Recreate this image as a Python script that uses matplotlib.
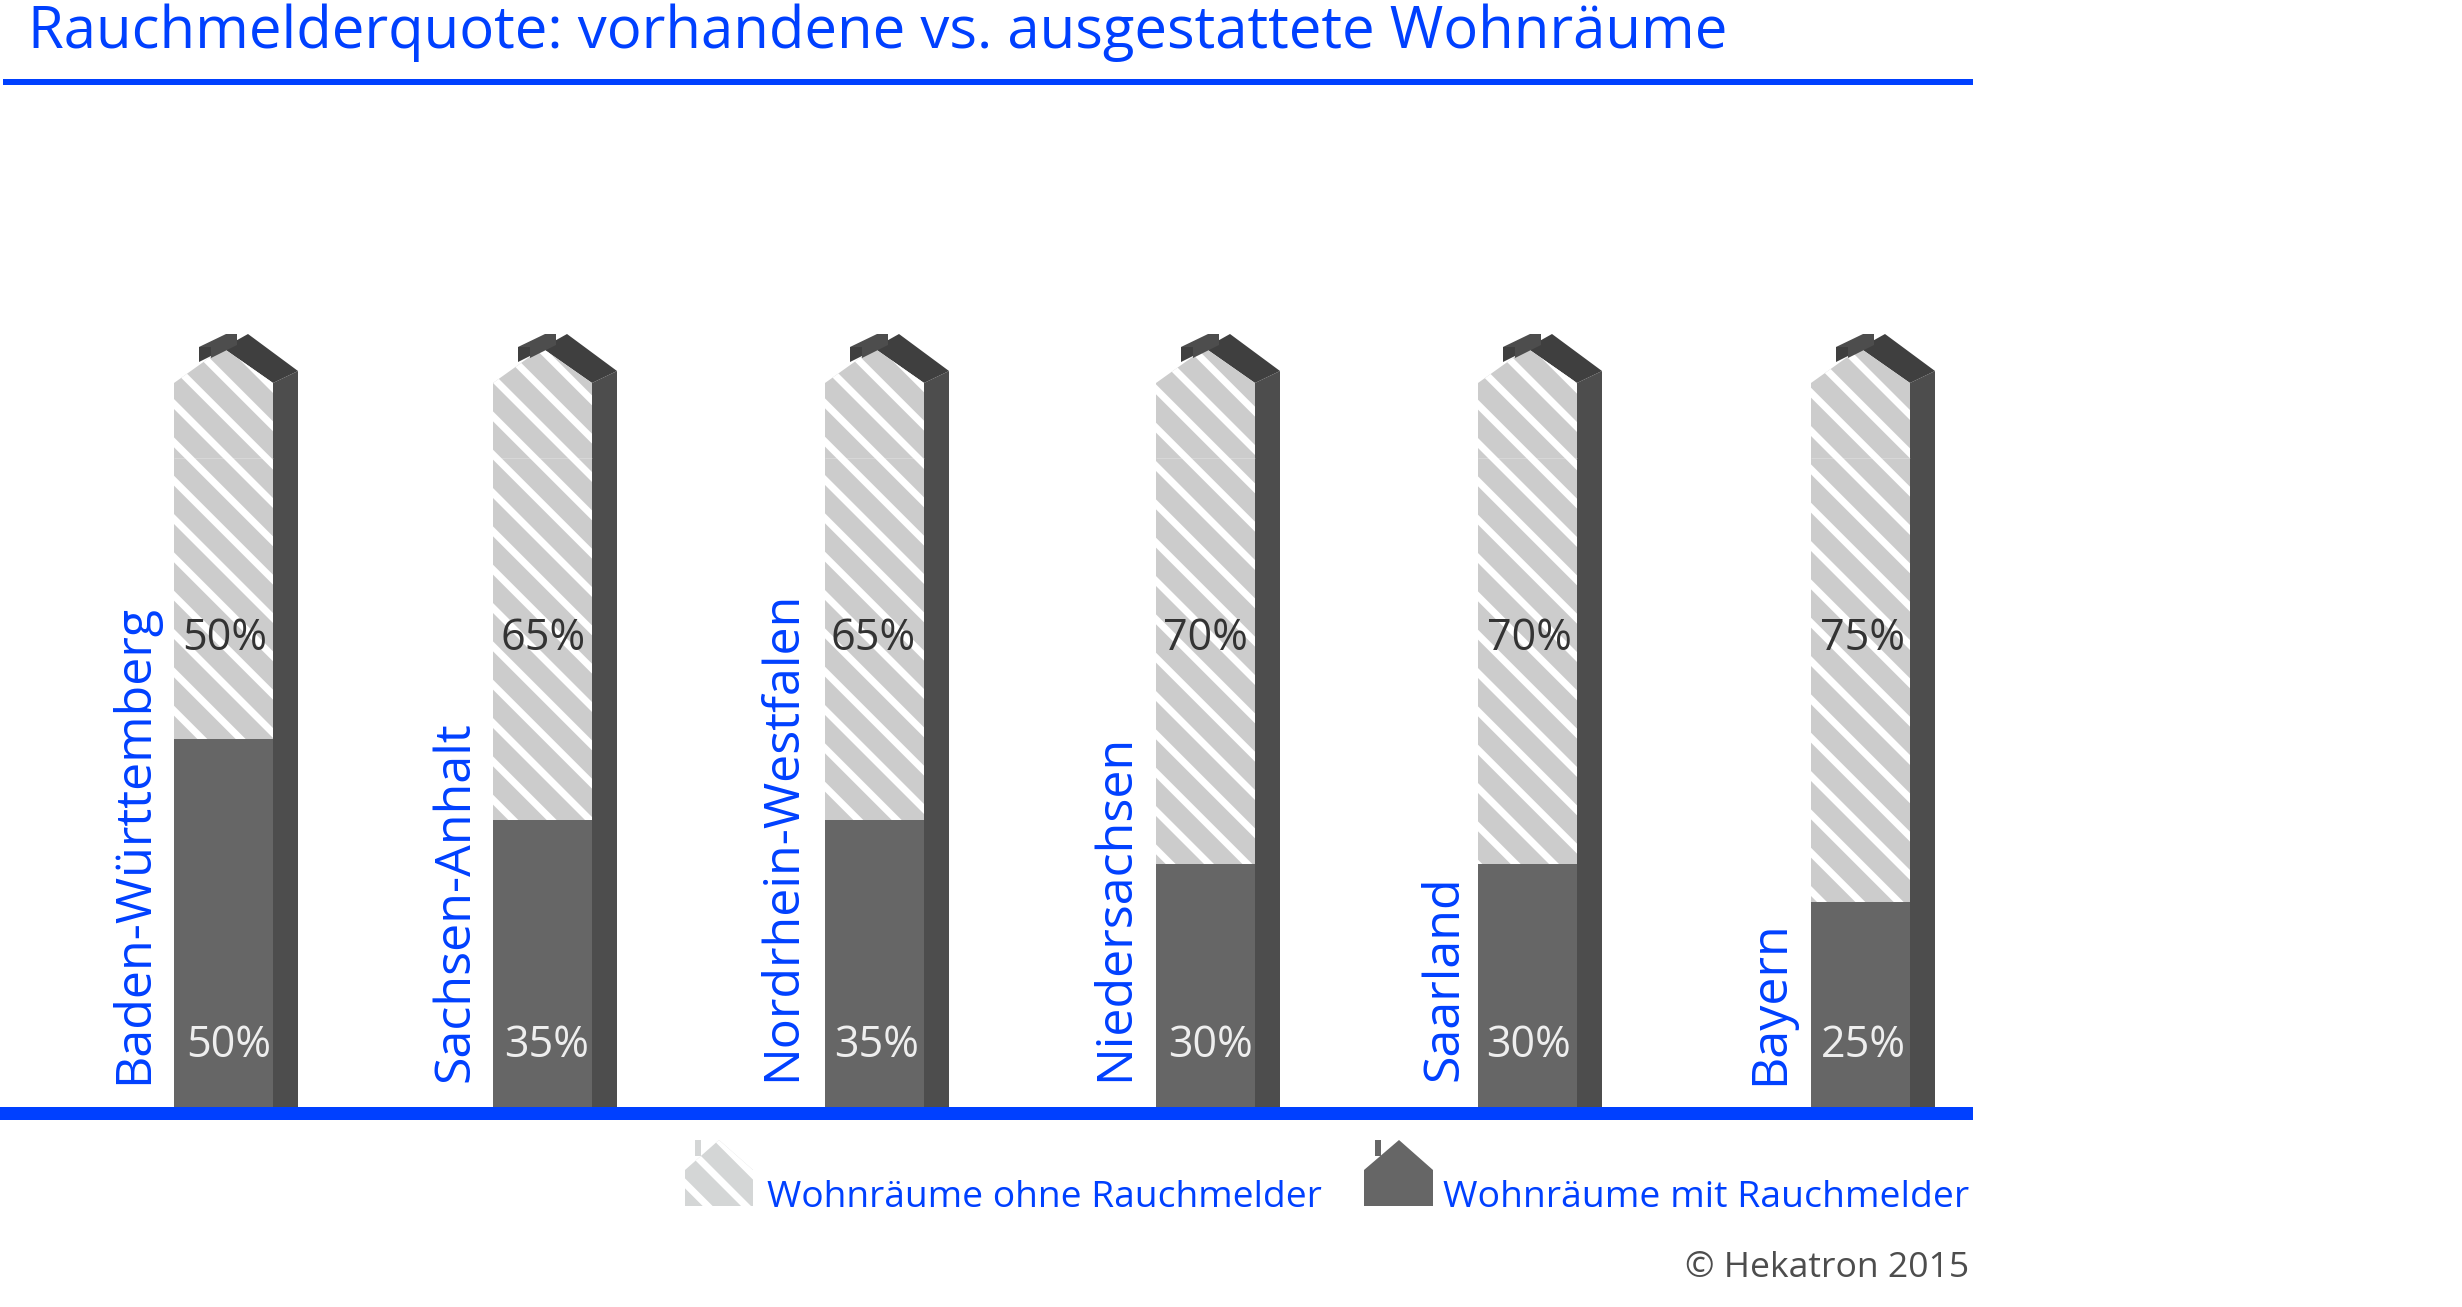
# -*- coding: utf-8 -*-
import matplotlib
matplotlib.use('Agg')
import matplotlib.pyplot as plt
from matplotlib.patches import Polygon

plt.rcParams['font.family'] = 'Open Sans'
plt.rcParams['hatch.linewidth'] = 2.2

states = ['Baden-Württemberg', 'Sachsen-Anhalt', 'Nordrhein-Westfalen',
          'Niedersachsen', 'Saarland', 'Bayern']
with_detector = [50, 35, 35, 30, 30, 25]
without_detector = [50, 65, 65, 70, 70, 75]
# the drawn heights do not follow the labels, these are read off the bars
drawn_height = [50.8, 39.6, 39.6, 33.5, 33.5, 28.3]

BLUE = '#0040ff'
GREY_FRONT = '#666666'
GREY_SIDE = '#4d4d4d'
GREY_ROOF = '#3f3f3f'
GREY_HATCH = '#cccccc'
STRIPES = '\\\\'

W, H = 2462, 1307
DPI = 230
BASE, EAVE = 1107, 383

bar_left = [174, 493, 825, 1156, 1478, 1811]
label_x = [134, 456, 782, 1115, 1445, 1770]
label_bottom = [1084, 1082, 1081, 1081, 1081, 1085]
upper_x = [225, 543, 873, 1205, 1529, 1863]
lower_x = [229, 547, 877, 1210, 1529, 1863]
bar_w, side_w = 99, 25


def fig_text(x, y, s, **kw):
    fig.text(x / W, 1 - y / H, s, **kw)


def to_val(px):
    # pixel row in the picture -> value on the bar axis
    return (BASE - px) / (BASE - EAVE) * 100


fig = plt.figure(figsize=(W / DPI, H / DPI), dpi=DPI, facecolor='white')
ax = fig.add_axes([0, 1 - BASE / H, 1, (BASE - EAVE) / H])
ax.set_xlim(0, W)
ax.set_ylim(0, 100)
ax.axis('off')

ax.bar(bar_left, drawn_height, width=bar_w, align='edge', color=GREY_FRONT, linewidth=0)
ax.bar(bar_left, [100 - h for h in drawn_height], width=bar_w, bottom=drawn_height,
       align='edge', color=GREY_HATCH, edgecolor='white', hatch=STRIPES, linewidth=0)

for i, x in enumerate(bar_left):
    r = x + bar_w
    # side wall
    ax.add_patch(Polygon([(r, 0), (r + side_w, 0), (r + side_w, to_val(371)), (r, 100)],
                         closed=True, color=GREY_SIDE, lw=0, clip_on=False))
    # roof slope seen from the side
    ax.add_patch(Polygon([(x + 49, to_val(348)), (x + 74, to_val(334)), (r + side_w, to_val(371)), (r, 100)],
                         closed=True, color=GREY_ROOF, lw=0, clip_on=False))
    # gable
    ax.add_patch(Polygon([(x, 100), (x + 49, to_val(348)), (r, 100)], closed=True,
                         facecolor=GREY_HATCH, edgecolor='white', hatch=STRIPES, lw=0, clip_on=False))
    # chimney
    ax.add_patch(Polygon([(x + 25, to_val(347)), (x + 37, to_val(347)), (x + 37, to_val(356)), (x + 25, to_val(362))],
                         closed=True, color=GREY_ROOF, lw=0, clip_on=False))
    ax.add_patch(Polygon([(x + 25, to_val(347)), (x + 52, to_val(334)), (x + 63, to_val(334)), (x + 63, to_val(345)),
                          (x + 37, to_val(358)), (x + 37, to_val(347))],
                         closed=True, color=GREY_SIDE, lw=0, clip_on=False))
    # faint seam in the hatched part
    ax.plot([x, r], [to_val(458)] * 2, color='white', lw=0.2, alpha=0.35, solid_capstyle='butt')

    fig_text(upper_x[i], 639, f'{without_detector[i]}%', fontsize=13.5, color='#333333', ha='center', va='center')
    fig_text(lower_x[i], 1046, f'{with_detector[i]}%', fontsize=13.5, color='#eeeeee', ha='center', va='center')
    fig_text(label_x[i], label_bottom[i], states[i], fontsize=15.7, color=BLUE, rotation=90,
             ha='center', va='bottom')

# title and rules
fig_text(28, 33, 'Rauchmelderquote: vorhandene vs. ausgestattete Wohnräume', fontsize=18.15, color=BLUE,
         ha='left', va='center')
fig.add_artist(plt.Rectangle((3 / W, 1 - 85 / H), 1970 / W, 6 / H, color=BLUE, lw=0))
fig.add_artist(plt.Rectangle((0, 1 - 1120 / H), 1973 / W, 13 / H, color=BLUE, lw=0))

# legend, same house shape as the bars
lax = fig.add_axes([0, 0, 1, 1], facecolor='none')
lax.set_xlim(0, W)
lax.set_ylim(H, 0)
lax.axis('off')
lax.add_patch(Polygon([(685, 1206), (685, 1170), (719, 1140), (753, 1170), (753, 1206)], closed=True,
                      facecolor='#d4d6d6', edgecolor='white', hatch=STRIPES, lw=0))
lax.add_patch(plt.Rectangle((695, 1140), 6, 16, color='#d4d6d6', lw=0))
lax.add_patch(Polygon([(1364, 1206), (1364, 1170), (1399, 1140), (1433, 1170), (1433, 1206)], closed=True,
                      color=GREY_FRONT, lw=0))
lax.add_patch(plt.Rectangle((1375, 1140), 6, 16, color=GREY_FRONT, lw=0))

fig_text(767, 1207, 'Wohnräume ohne Rauchmelder', fontsize=11.65, color=BLUE, ha='left', va='baseline')
fig_text(1969, 1207, 'Wohnräume mit Rauchmelder', fontsize=11.7, color=BLUE, ha='right', va='baseline')
fig_text(1969, 1277, '© Hekatron 2015', fontsize=11.1, color='#4d4d4d', ha='right', va='baseline')

fig.savefig('out.png', dpi=DPI, facecolor='white')
